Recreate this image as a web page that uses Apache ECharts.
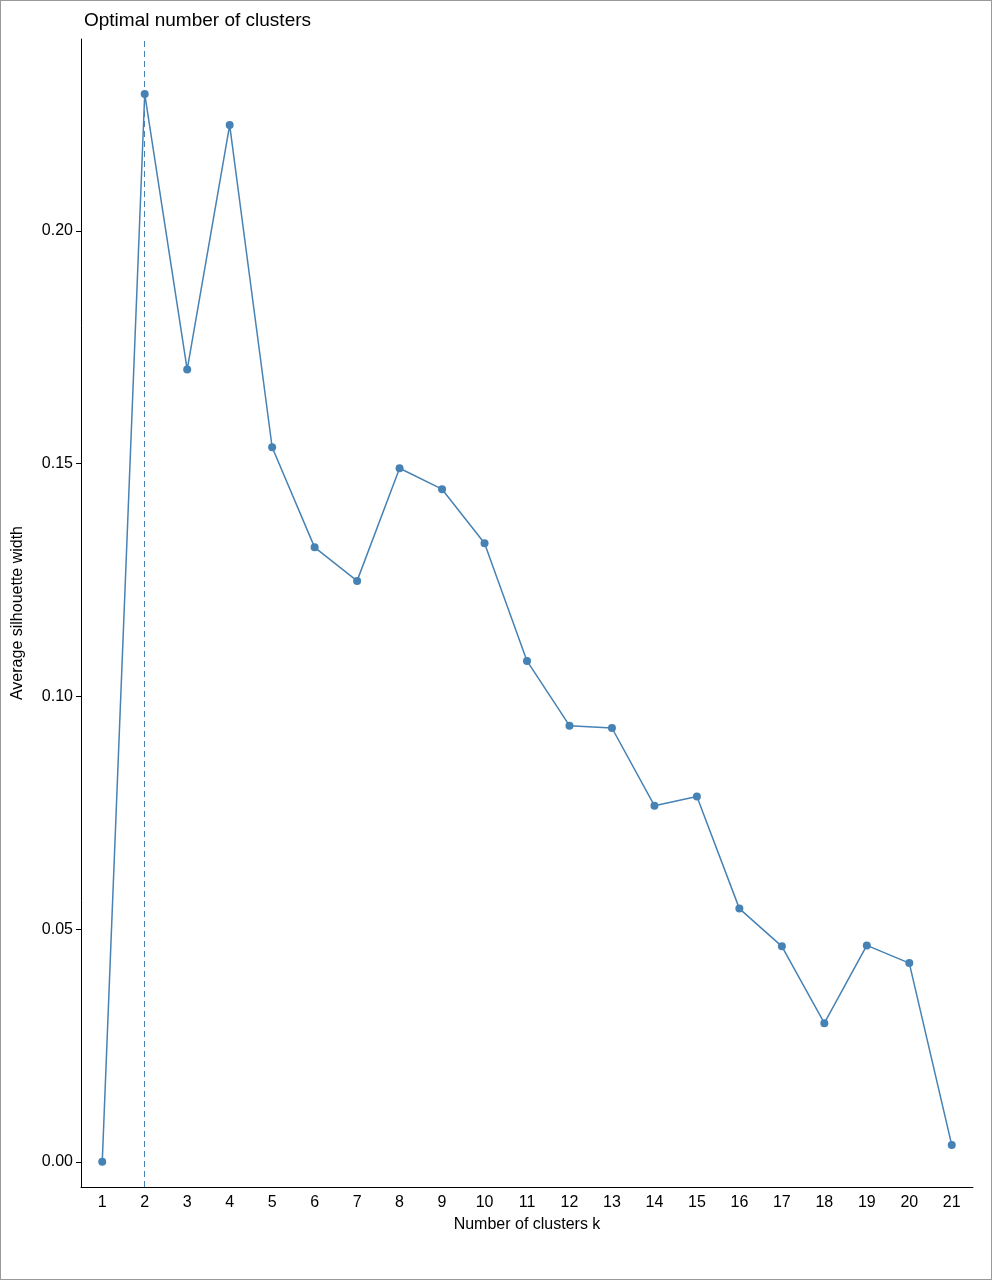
<!DOCTYPE html>
<html><head><meta charset="utf-8">
<script src="https://cdn.jsdelivr.net/npm/echarts@6/dist/echarts.min.js"></script>
<style>html,body{margin:0;padding:0;background:#fff}#c{width:992px;height:1280px;box-sizing:border-box;border:1px solid #999}</style>
</head><body><div id="c"></div>
<script>
const categories = ['1','2','3','4','5','6','7','8','9','10','11','12','13','14','15','16','17','18','19','20','21'];
const silhouette = [0, 0.2294, 0.1702, 0.2227, 0.1535, 0.1320, 0.1248, 0.1490, 0.1445, 0.1329, 0.1076, 0.0937, 0.0932, 0.0765, 0.0785, 0.0544, 0.0463, 0.0298, 0.0465, 0.0427, 0.0036];
const yTicks = [0, 0.05, 0.10, 0.15, 0.20];
const optimalK = '2';
const chart = echarts.init(document.getElementById('c'), null, {renderer:'canvas'});
const font = 'Liberation Sans, Arial, sans-serif';
chart.setOption({
  animation:false,
  title:{text:'Optimal number of clusters', left:78, top:5, textStyle:{fontFamily:font, fontSize:19, fontWeight:'normal', color:'#000'}},
  grid:{left:80, right:18, top:38, bottom:92, containLabel:false, outerBoundsMode:'none'},
  xAxis:{type:'category', data:categories, boundaryGap:true,
    name:'Number of clusters k', nameLocation:'middle', nameGap:30,
    nameTextStyle:{fontFamily:font, fontSize:16, color:'#000'},
    axisLine:{onZero:false, lineStyle:{color:'#000', width:1}},
    axisTick:{alignWithLabel:true, length:5, lineStyle:{color:'#000'}},
    axisLabel:{fontFamily:font, fontSize:16, color:'#000', margin:8, interval:0},
    splitLine:{show:false}},
  yAxis:{type:'value', min:-0.0054, max:0.2412,
    name:'Average silhouette width', nameLocation:'middle', nameGap:55,
    nameTextStyle:{fontFamily:font, fontSize:16, color:'#000'},
    axisLine:{show:true, lineStyle:{color:'#000', width:1}},
    axisTick:{show:true, length:5, customValues:yTicks, lineStyle:{color:'#000'}},
    axisLabel:{fontFamily:font, fontSize:16, color:'#000', customValues:yTicks, formatter:v=>v.toFixed(2)},
    splitLine:{show:false}},
  series:[{type:'line', data:silhouette, symbol:'circle', symbolSize:8,
    itemStyle:{color:'#4682B4'}, lineStyle:{color:'#4682B4', width:1.5},
    markLine:{silent:true, symbol:'none', label:{show:false},
      lineStyle:{color:'#4682B4', type:[6,4], width:1},
      data:[{xAxis:optimalK}]}}]
});
</script></body></html>
